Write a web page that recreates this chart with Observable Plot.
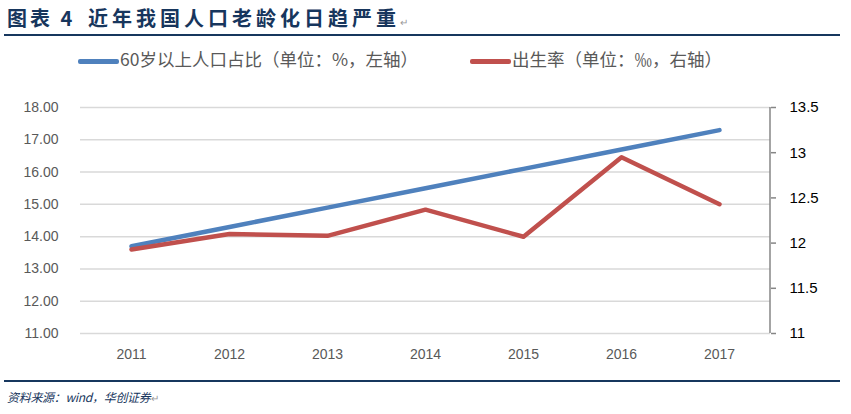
<!DOCTYPE html>
<html><head><meta charset="utf-8">
<script src="https://cdn.jsdelivr.net/npm/d3@7"></script>
<script src="https://cdn.jsdelivr.net/npm/@observablehq/plot@0.6"></script>
<style>
body{margin:0;background:#fff;width:851px;height:414px;overflow:hidden;position:relative;font-family:"Liberation Sans",sans-serif;}
#chart{position:absolute;left:0;top:0;}
.t{position:absolute;white-space:nowrap;}
.title{top:4px;font-family:"Noto Sans CJK SC";font-weight:bold;font-size:20px;color:#17365D;letter-spacing:4px;line-height:28px;}
#rule1{position:absolute;left:4px;top:34px;width:836px;height:2px;background:#17375E;}
#rule2{position:absolute;left:4px;top:380px;width:836px;height:2px;background:#17375E;}
#foot{left:7px;top:388px;font-family:"Noto Sans CJK SC";font-style:italic;font-size:12px;letter-spacing:-0.3px;color:#17365D;}
.leg{top:47px;font-family:"Noto Sans CJK SC";font-size:17.5px;color:#595959;line-height:24px;}
.sw{position:absolute;height:5px;border-radius:2px;top:59px;}
.pm{color:#999;font-size:10px;letter-spacing:0;font-weight:normal;font-style:normal;}
</style></head>
<body>
<div id="chart"></div>
<div class="t title" style="left:7px;letter-spacing:3px">图表 4</div>
<div class="t title" style="left:88px">近年我国人口老龄化日趋严重<span class="pm">↵</span></div>
<div id="rule1"></div>
<div class="sw" style="left:78px;width:41px;background:#4F81BD"></div>
<div class="t leg" style="left:120px">60岁以上人口占比（单位：%，左轴）</div>
<div class="sw" style="left:470px;width:41px;background:#C0504D"></div>
<div class="t leg" style="left:512px">出生率（单位：‰，右轴）</div>
<div id="rule2"></div>
<div class="t" id="foot">资料来源：wind，华创证券<span class="pm">↵</span></div>
<script>
const years = ["2011","2012","2013","2014","2015","2016","2017"];
const elderlyShare = [13.7, 14.3, 14.9, 15.5, 16.1, 16.7, 17.3];
const birthRate = [11.93, 12.10, 12.08, 12.37, 12.07, 12.95, 12.43];
const leftTicks = [11,12,13,14,15,16,17,18];
const rightTicks = [11,11.5,12,12.5,13,13.5];

const L0 = 11, L1 = 18, R0 = 11, R1 = 13.5;
const toLeft = v => L0 + (v - R0) * (L1 - L0) / (R1 - R0);
const toRight = v => R0 + (v - L0) * (R1 - R0) / (L1 - L0);

const blue = years.map((y,i)=>({year:y, v:elderlyShare[i]}));
const red = years.map((y,i)=>({year:y, v:toLeft(birthRate[i])}));

const chart = Plot.plot({
  width: 851, height: 414,
  marginTop: 107, marginBottom: 81, marginLeft: 80, marginRight: 81,
  style:{fontFamily:"Liberation Sans, sans-serif", fontSize:"14px", background:"transparent"},
  x:{type:"point", domain: years, padding:0.5},
  y:{domain:[L0,L1]},
  marks:[
    Plot.ruleY(leftTicks, {stroke:"#D9D9D9", strokeWidth:1.5}),
    Plot.axisY({ticks:leftTicks, tickSize:0, tickPadding:22, tickFormat:d=>d.toFixed(2), fill:"#595959", label:null, fontSize:14}),
    Plot.axisY({anchor:"right", ticks:rightTicks.map(toLeft), tickSize:5, tickPadding:14, stroke:"#868686", strokeWidth:1.5, tickFormat:d=>String(+toRight(d).toFixed(1)), fill:"#000", label:null, fontSize:15}),
    Plot.axisX({tickSize:0, tickPadding:16, fill:"#595959", label:null, fontSize:14}),
    Plot.line(blue, {x:"year", y:"v", stroke:"#4F81BD", strokeWidth:4.5, strokeLinecap:"round", strokeLinejoin:"round"}),
    Plot.line(red, {x:"year", y:"v", stroke:"#C0504D", strokeWidth:4.5, strokeLinecap:"round", strokeLinejoin:"round"})
  ]
});
document.getElementById("chart").append(chart);
// right axis spine
const svg = d3.select(chart);
svg.append("line").attr("x1",770).attr("x2",770).attr("y1",107).attr("y2",333).attr("stroke","#868686").attr("stroke-width",1.5);
</script>
</body></html>
